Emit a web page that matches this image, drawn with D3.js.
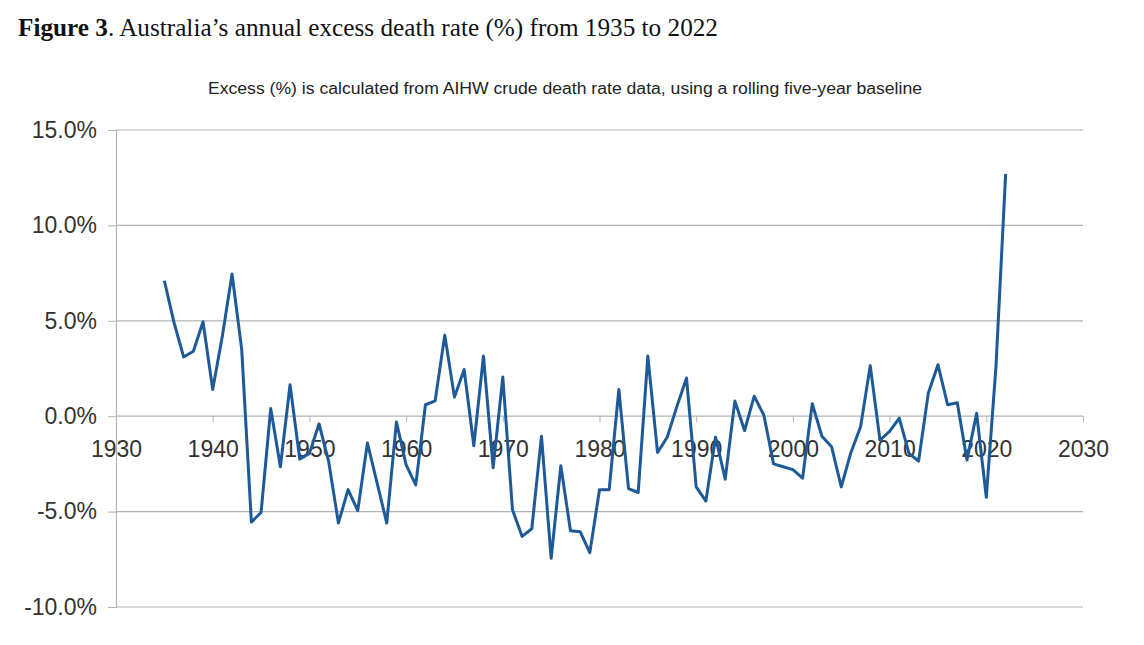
<!DOCTYPE html>
<html>
<head>
<meta charset="utf-8">
<title>Excess death rate</title>
<script src="https://d3js.org/d3.v7.min.js"></script>
<style>
  body { margin: 0; background: #fff; }
  svg { display: block; }
  .tick text { font-family: "Liberation Sans", Arial, sans-serif; font-size: 23px; fill: #333; }
</style>
</head>
<body>
<svg id="chart" width="1144" height="645"></svg>
<script>
// annual excess (%)
var years = [1935, 1936, 1937, 1938, 1939, 1940, 1941, 1942, 1943, 1944,
             1945, 1946, 1947, 1948, 1949, 1950, 1951, 1952, 1953, 1954,
             1955, 1956, 1957, 1958, 1959, 1960, 1961, 1962, 1963, 1964,
             1965, 1966, 1967, 1968, 1969, 1970, 1971, 1972, 1973, 1974,
             1975, 1976, 1977, 1978, 1979, 1980, 1981, 1982, 1983, 1984,
             1985, 1986, 1987, 1988, 1989, 1990, 1991, 1992, 1993, 1994,
             1995, 1996, 1997, 1998, 1999, 2000, 2001, 2002, 2003, 2004,
             2005, 2006, 2007, 2008, 2009, 2010, 2011, 2012, 2013, 2014,
             2015, 2016, 2017, 2018, 2019, 2020, 2021, 2022];
var excess = [7.1, 4.9, 3.1, 3.4, 4.95, 1.4, 4.2, 7.45, 3.5, -5.55,
              -5.05, 0.4, -2.65, 1.65, -2.25, -1.95, -0.4, -2.4, -5.6, -3.85,
              -4.95, -1.4, -3.5, -5.6, -0.3, -2.55, -3.6, 0.6, 0.8, 4.25,
              1.0, 2.45, -1.55, 3.15, -2.7, 2.05, -4.9, -6.3, -5.9, -1.05,
              -7.45, -2.6, -6.0, -6.05, -7.15, -3.85, -3.85, 1.4, -3.8, -4.0,
              3.15, -1.9, -1.1, 0.5, 2.0, -3.7, -4.45, -1.1, -3.3, 0.8,
              -0.75, 1.05, 0.05, -2.5, -2.65, -2.8, -3.25, 0.65, -1.05, -1.6,
              -3.7, -1.9, -0.55, 2.65, -1.25, -0.8, -0.1, -1.95, -2.35, 1.2,
              2.7, 0.6, 0.7, -2.3, 0.15, -4.25, 2.6, 12.7];
var xTicks = [1930, 1940, 1950, 1960, 1970, 1980, 1990, 2000, 2010, 2020, 2030];
var yTicks = [-10, -5, 0, 5, 10, 15];

var svg = d3.select("#chart"),
    margin = {top: 130, right: 61, bottom: 38, left: 116},
    width = 1144 - margin.left - margin.right,
    height = 645 - margin.top - margin.bottom;

var data = years.map(function(y, i) { return {year: y, value: excess[i]}; });

svg.append("rect").attr("width", 1144).attr("height", 645).attr("fill", "#fff");

var title = svg.append("text")
    .attr("x", 18).attr("y", 36)
    .attr("font-family", "'Liberation Serif', 'Times New Roman', serif")
    .attr("font-size", 25)
    .attr("fill", "#111")
    .attr("textLength", 700)
    .attr("lengthAdjust", "spacingAndGlyphs");
title.append("tspan").attr("font-weight", "bold").text("Figure 3");
title.append("tspan").text(". Australia\u2019s annual excess death rate (%) from 1935 to 2022");

svg.append("text")
    .attr("x", 208).attr("y", 94)
    .attr("font-family", "'Liberation Sans', Arial, sans-serif")
    .attr("font-size", 16)
    .attr("fill", "#222")
    .attr("textLength", 714)
    .attr("lengthAdjust", "spacingAndGlyphs")
    .text("Excess (%) is calculated from AIHW crude death rate data, using a rolling five-year baseline");

var x = d3.scaleLinear().domain([1930, 2030]).range([0, width]),
    y = d3.scaleLinear().domain([-10, 15]).range([height, 0]);

var g = svg.append("g")
    .attr("transform", "translate(" + margin.left + "," + margin.top + ")");

// horizontal gridlines
g.append("g")
    .selectAll("line")
    .data(yTicks)
    .enter().append("line")
      .attr("x1", 0).attr("x2", width)
      .attr("y1", function(d) { return y(d); })
      .attr("y2", function(d) { return y(d); })
      .attr("stroke", "#b3b3b3")
      .attr("stroke-width", 1.2);

// y axis
var yAxis = g.append("g")
    .call(d3.axisLeft(y).tickValues(yTicks).tickSize(8).tickPadding(11)
      .tickFormat(function(d) { return d.toFixed(1) + "%"; }));
yAxis.selectAll("line").attr("stroke", "#b3b3b3");
yAxis.select(".domain").attr("stroke", "#b3b3b3").attr("stroke-width", 1.2);

// x axis on the zero line
var xAxis = g.append("g")
    .attr("transform", "translate(0," + y(0) + ")")
    .call(d3.axisBottom(x).tickValues(xTicks).tickSize(6).tickPadding(18)
      .tickFormat(d3.format("d")));
xAxis.select(".domain").remove();
xAxis.selectAll("line").attr("stroke", "#b3b3b3");

var line = d3.line()
    .x(function(d) { return x(d.year); })
    .y(function(d) { return y(d.value); });

g.append("path")
    .datum(data)
    .attr("fill", "none")
    .attr("stroke", "#1f5a98")
    .attr("stroke-width", 3)
    .attr("stroke-linejoin", "round")
    .attr("d", line);
</script>
</body>
</html>
